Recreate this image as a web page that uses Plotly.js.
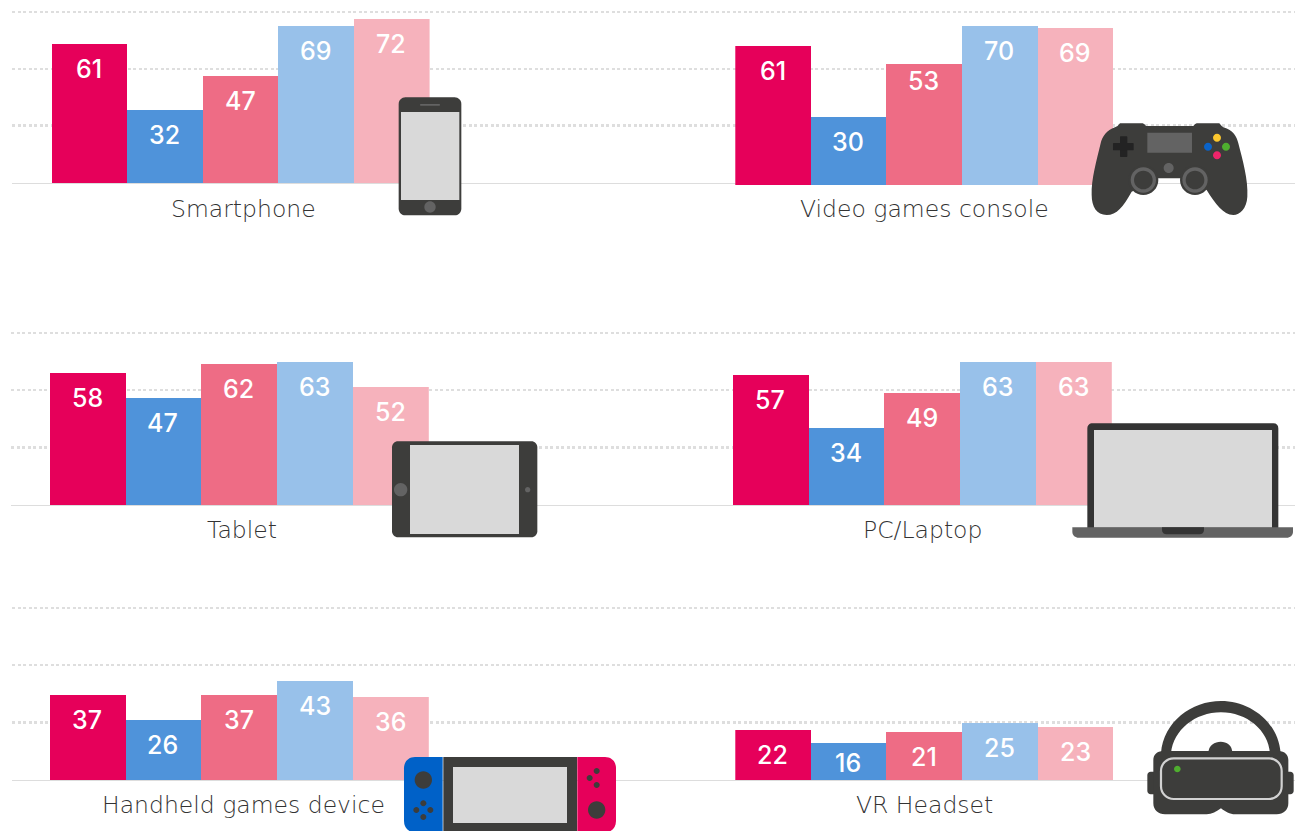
<!DOCTYPE html>
<html><head><meta charset="utf-8">
<script src="https://cdn.plot.ly/plotly-3.0.1.min.js"></script>
<style>html,body{margin:0;padding:0;background:#fff;overflow:hidden}#c{width:1295px;height:831px}</style>
</head><body><div id="c"></div>
<script>
// Data
var devices = ['Smartphone','Video games console','Tablet','PC/Laptop','Handheld games device','VR Headset'];
var smartphone = [61,32,47,69,72];
var gamesConsole = [61,30,53,70,69];
var tablet = [58,47,62,63,52];
var laptop = [57,34,49,63,63];
var handheld = [37,26,37,43,36];
var vrHeadset = [22,16,21,25,23];
var groups = [0,1,2,3,4];
var gridTicks = [25,50,75];
var seriesColors = ['#E6005A','#4F93DA','#EE6C85','#98C1EA','#F6B2BC'];
var allValues = [smartphone,gamesConsole,tablet,laptop,handheld,vrHeadset];

// Layout in pixels
var W=1295,H=831,GRID='#dddddd',INK='#3d3d3b',MID='#636363',SCREEN='#d9d9d9';
var FONT='Inter, "Noto Sans", sans-serif', LABELFONT='"DejaVu Sans", sans-serif';
var px=function(x){return x/W;}, py=function(y){return 1-y/H;};
var gridRows=[{l:12,t:12,b:183},{l:11,t:333,b:505},{l:12,t:608,b:780}];
var panels=[
 {l:51.5,r:429.6,b:183,h:171,lx:243,ly:208.5},
 {l:735.3,r:1113.3,b:185,h:170.8,lx:924,ly:208.5},
 {l:49.7,r:428.8,b:505,h:170.5,lx:242,ly:529.5},
 {l:732.7,r:1111.8,b:505,h:170.8,lx:922.5,ly:529.5},
 {l:49.7,r:428.8,b:780,h:172.5,lx:243,ly:804.5},
 {l:735.3,r:1113.3,b:780,h:172,lx:924,ly:804.5}
];
var layout={width:W,height:H,margin:{l:0,r:0,t:0,b:0,pad:0},paper_bgcolor:'#fff',plot_bgcolor:'rgba(0,0,0,0)',
  showlegend:false,bargap:0,annotations:[],shapes:[]};
var traces=[];
gridRows.forEach(function(g,i){
  var s=i?String(i+1):'';
  var step=(g.b-g.t)/75;
  layout['xaxis'+s]={domain:[px(g.l),1],range:[0,1],anchor:'y'+s,showgrid:false,zeroline:false,showticklabels:false,ticks:'',
     showline:true,linecolor:GRID,linewidth:1,fixedrange:true};
  layout['yaxis'+s]={domain:[py(g.b-0.5),py(g.t-step*4)],range:[0,79],anchor:'x'+s,tickmode:'array',tickvals:gridTicks,showticklabels:false,ticks:'',
     showgrid:true,gridcolor:'#dedede',gridwidth:2.6,griddash:'3px,2.5px',zeroline:false,showline:false,fixedrange:true};
  traces.push({type:'scatter',mode:'lines',x:[0,1],y:[0,0],xaxis:'x'+s,yaxis:'y'+s,line:{width:0},hoverinfo:'skip'});
});
panels.forEach(function(p,i){
  var n=i+4;
  layout['xaxis'+n]={domain:[px(p.l),px(p.r)],range:[-0.5,4.5],anchor:'y'+n,visible:false,fixedrange:true};
  layout['yaxis'+n]={domain:[py(p.b),py(p.b-p.h)],range:[0,75],anchor:'x'+n,visible:false,fixedrange:true};
  traces.push({type:'bar',x:groups,y:allValues[i],xaxis:'x'+n,yaxis:'y'+n,marker:{color:seriesColors,line:{width:0}},width:1,hoverinfo:'y'});
  allValues[i].forEach(function(v,k){
    var drop=25; if(v<18)drop=20; if(i===1&&k===2)drop=17;
    layout.annotations.push({xref:'x'+n,yref:'y'+n,x:k,y:v,text:String(v),showarrow:false,yanchor:'middle',xanchor:'center',
      xshift:-0.5,yshift:-drop,font:{family:FONT,size:25,color:'#fff',weight:500}});
  });
  layout.annotations.push({xref:'paper',yref:'paper',x:px(p.lx),y:py(p.ly),text:devices[i],showarrow:false,xanchor:'center',yanchor:'middle',
     font:{family:LABELFONT,size:23.5,color:'#333333',weight:200}});
});

// Device pictures, each drawn in a local zoomed frame (origin ox,oy, scale 1/s)
function frame(ox,oy,s){
  var X=function(x){return (ox+x/s)/W;},Y=function(y){return 1-(oy+y/s)/H;};
  function conv(d){var i=0;return d.replace(/-?\d+(\.\d+)?/g,function(m){var v=parseFloat(m);return (i++%2===0?X(v):Y(v)).toFixed(6);});}
  function add(d,c,lc,lw){layout.shapes.push({type:'path',xref:'paper',yref:'paper',path:conv(d),fillcolor:c,line:{color:lc||c,width:lw||0},layer:'above'});}
  var k=0.5523;
  return {
    path:add,
    rr:function(x0,y0,x1,y1,r,c,lc,lw){var q=r*(1-k);
      add('M'+(x0+r)+' '+y0+' L'+(x1-r)+' '+y0+' C'+(x1-q)+' '+y0+' '+x1+' '+(y0+q)+' '+x1+' '+(y0+r)+' L'+x1+' '+(y1-r)+' C'+x1+' '+(y1-q)+' '+(x1-q)+' '+y1+' '+(x1-r)+' '+y1+' L'+(x0+r)+' '+y1+' C'+(x0+q)+' '+y1+' '+x0+' '+(y1-q)+' '+x0+' '+(y1-r)+' L'+x0+' '+(y0+r)+' C'+x0+' '+(y0+q)+' '+(x0+q)+' '+y0+' '+(x0+r)+' '+y0+' Z',c,lc,lw);},
    dot:function(cx,cy,r,c){var q=r*k;
      add('M'+(cx-r)+' '+cy+' C'+(cx-r)+' '+(cy-q)+' '+(cx-q)+' '+(cy-r)+' '+cx+' '+(cy-r)+' C'+(cx+q)+' '+(cy-r)+' '+(cx+r)+' '+(cy-q)+' '+(cx+r)+' '+cy+' C'+(cx+r)+' '+(cy+q)+' '+(cx+q)+' '+(cy+r)+' '+cx+' '+(cy+r)+' C'+(cx-q)+' '+(cy+r)+' '+(cx-r)+' '+(cy+q)+' '+(cx-r)+' '+cy+' Z',c);}
  };
}
// phone
(function(){var f=frame(0,0,3);
 f.rr(1196,292,1384,646,20,INK);f.rr(1203,336,1378,600,0,SCREEN);f.rr(1260,312,1320,317,2,MID);f.dot(1290,621,17,MID);})();
// controller
(function(){var f=frame(1060,100,3);
 f.path('M180 70 L248 70 Q254 72 258 78 L400 78 Q404 72 410 70 L478 70 Q484 78 490 82 C520 90 530 110 535 130 C548 180 565 240 562 290 C560 325 540 345 520 345 C490 345 465 310 440 270 L360 235 L295 235 L215 275 C190 320 170 345 140 345 C110 345 95 320 95 285 C93 240 110 180 122 130 C127 110 140 90 165 82 Q175 78 180 70 Z',INK);
 f.dot(250,240,45,INK);f.dot(405,240,45,INK);
 f.rr(262,98,396,158,0,MID);
 f.rr(180,109,202,171,2,'#232323');f.rr(159,129,221,151,2,'#232323');
 f.dot(326,204,15,MID);
 f.dot(250,240,38,MID);f.dot(250,240,28,INK);f.dot(405,240,38,MID);f.dot(405,240,28,INK);
 f.dot(471,113,12,'#FCC72E');f.dot(444,140,12,'#0A63C9');f.dot(498,140,12,'#4EAE2F');f.dot(471,166,12,'#F0246A');})();
// tablet
(function(){var f=frame(380,430,3);
 f.rr(36,34,472,322,18,INK);f.rr(90,45,417,312,0,SCREEN);f.dot(62,179,20,MID);f.dot(443,179,8,MID);})();
// laptop
(function(){var f=frame(1060,410,3);
 f.path('M98 40 L640 40 C650 40 655 46 655 56 L655 355 L82 355 L82 56 C82 46 88 40 98 40 Z','#343434');
 f.rr(102,60,636,353,0,SCREEN);
 f.path('M37 352 L699 352 L699 365 C699 376 690 383 680 383 L56 383 C46 383 37 376 37 365 Z',MID);
 f.path('M306 352 L432 352 L432 360 C432 368 426 373 418 373 L320 373 C312 373 306 368 306 360 Z','#343434');})();
// switch
(function(){var f=frame(395,745,3);
 f.path('M143 36 L143 262 L60 262 C40 262 27 248 27 228 L27 70 C27 50 40 36 60 36 Z','#0061C8');
 f.path('M547 36 L630 36 C650 36 663 50 663 70 L663 228 C663 248 650 262 630 262 L547 262 Z','#E6005A');
 f.rr(145,36,546,262,0,INK);f.rr(174,66,516,234,0,SCREEN);
 f.dot(85,105,26,INK);f.dot(85,175,9,INK);f.dot(64,195,9,INK);f.dot(106,195,9,INK);f.dot(85,216,9,INK);
 f.dot(605,78,9,INK);f.dot(584,99,9,INK);f.dot(605,120,9,INK);f.dot(605,195,26,INK);})();
// VR headset
(function(){var f=frame(1135,695,3);
 f.path('M78 175 C85 80 170 18 258 18 C345 18 430 80 437 175 L405 175 C400 105 335 52 258 52 C180 52 115 105 108 175 Z',INK);
 f.path('M220 175 C220 150 240 140 257 140 C275 140 292 150 292 175 Z',INK);
 f.rr(37,230,70,298,10,INK);f.rr(445,230,476,298,10,INK);
 f.path('M85 168 L430 168 C450 168 460 180 460 195 L460 325 C460 345 445 358 425 358 L300 358 C285 358 270 350 258 340 C245 350 230 358 215 358 L90 358 C70 358 55 345 55 325 L55 195 C55 180 65 168 85 168 Z',INK);
 f.rr(78,190,440,312,38,INK,'#d2d2d2',2.2);
 f.dot(127,222,10,'#4FAE2F');})();

Plotly.newPlot('c',traces,layout,{displayModeBar:false,responsive:false,staticPlot:true});
</script></body></html>
